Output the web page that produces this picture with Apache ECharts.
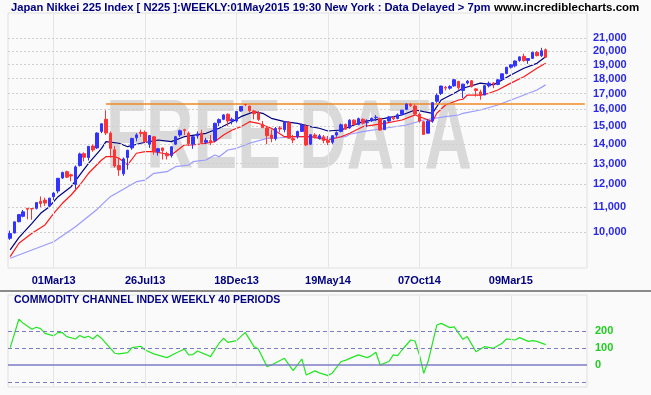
<!DOCTYPE html>
<html><head><meta charset="utf-8">
<script src="https://cdn.jsdelivr.net/npm/echarts@6/dist/echarts.min.js"></script>
<style>html,body{margin:0;padding:0;background:#fafafa}#c{width:651px;height:395px}</style>
</head><body><div id="c"></div>
<script>
// Weekly Nikkei 225 bars, index 0 = week of 21 Dec 2012, index 123 = week of 1 May 2015
const opens = [9760,9960,10400,10620,10950,10940,10950,11250,11300,11050,
11450,11700,12300,12600,12450,12000,12900,13500,13300,13900,
13800,14700,15400,14600,13700,12900,12500,13300,13800,14350,
14650,14650,14000,14400,13600,13800,13500,13400,14000,14500,
14800,14600,14000,14450,14600,14100,14200,14200,15200,15400,
15700,15300,15300,15900,16300,16200,15900,15800,15100,14900,
14500,14300,14900,14800,15200,14300,14400,14700,15000,14000,
14500,14300,14400,14200,14100,14500,14700,15100,14900,15350,
15100,15400,15200,15300,15500,15450,14800,15300,15500,15450,
15700,16000,16300,16200,15700,15250,14600,15300,16500,17000,
17400,17350,17500,17800,17200,17700,17850,17300,17100,16900,
17500,17700,17600,17950,18350,18800,18900,19300,19600,19300,
19450,19900,19650,20100];
const closes = [9940,10395,10688,10801,10913,10926,11191,11153,11173,11385,
11606,12283,12560,12338,12397,12833,13485,13316,13884,13694,
14607,15138,14612,13774,12877,12686,13230,13677,14309,14506,
14589,14129,14466,13615,13758,13660,13389,13860,14404,14742,
14760,14024,14404,14561,14088,14201,14086,15165,15381,15662,
15299,15403,15870,16178,16291,15912,15734,15391,14915,14462,
14313,14865,14841,15274,14328,14224,14696,15063,13960,14516,
14429,14457,14199,14097,14462,14632,15077,14830,15349,15095,
15437,15165,15215,15457,15523,14778,15318,15539,15425,15669,
15948,16321,16229,15709,15300,14533,15291,16414,16880,17490,
17358,17460,17921,17371,17621,17818,17451,17198,16864,17512,
17674,17648,17913,18332,18798,18971,19254,19560,19286,19435,
19908,19653,20020,19532];
const lows = [9700,9950,10380,10580,10500,10480,10900,11000,11050,11000,
11300,11600,12250,12300,12150,11800,12850,13100,13150,13600,
13750,14600,14500,13300,12800,12400,12400,12700,13700,14150,
14400,14100,13800,13450,13400,13200,13200,13300,13950,14400,
14500,13900,13750,14300,14000,14000,13950,14100,15000,15350,
15000,15100,15200,15850,16200,15800,15400,15300,14900,13995,
14100,14200,14650,14650,14300,14050,14300,14700,13900,13950,
14300,14250,14050,13950,14000,14400,14650,14800,14850,15050,
15050,15100,14950,15250,15300,14750,14800,15250,15350,15400,
15650,15950,16150,15650,15200,14530,14600,15200,16400,16900,
17200,17250,17450,17250,16700,17600,17400,16800,16600,16900,
17400,17350,17550,17900,18300,18700,18800,19200,19200,19050,
19400,19600,19550,19500];
const highs = [10050,10400,10700,10880,10950,10950,11200,11460,11400,11400,
11650,12300,12600,12650,12500,12900,13550,13570,13900,13980,
14650,15150,15942,14700,13900,13300,13300,13700,14350,14600,
14800,14750,14500,14450,13800,13800,13600,13900,14450,14800,
14850,14700,14450,14700,14800,14350,14500,15200,15450,15700,
15750,15500,15900,16200,16320,16200,15950,15900,15300,14950,
14800,14950,15000,15300,15300,14500,14750,15150,15100,14550,
14600,14550,14500,14450,14500,14700,15150,15150,15400,15400,
15500,15450,15400,15500,15650,15500,15350,15600,15600,15750,
15950,16370,16380,16300,15800,15300,15400,16450,17000,17520,
17500,17550,17950,17850,17650,17900,17900,17350,17250,17550,
17800,17750,17950,18350,18820,19000,19300,19600,19800,19450,
19950,20000,20250,20200];

// Moving averages: [bar index, value]
const maNavy = [[0,9334],[2,9784],[5,10339],[7,10743],[9,11018],[11,11448],[14,11895],[16,12441],[18,13011],[21,13780],[22,14134],[25,14048],[27,13865],[30,14048],[34,14226],[37,14134],[40,14406],[45,14595],[48,14879],[51,15260],[53,15555],[56,15855],[58,15757],[60,15459],[63,15260],[66,15165],[69,14970],[71,14879],[73,14725],[76,14782],[78,14970],[81,15260],[86,15459],[90,15655],[93,15959],[95,15855],[97,15757],[99,16583],[102,17012],[104,17345],[108,17690],[111,17570],[113,17902],[115,18246],[118,18727],[121,19084],[123,19573]];
const maRed = [[0,9097],[2,9576],[5,9950],[8,10272],[10,10743],[12,11162],[14,11523],[16,11973],[18,12522],[21,13177],[22,13345],[24,13345],[25,13262],[27,12927],[29,13521],[31,13603],[33,13603],[35,13521],[37,13432],[40,13955],[42,13955],[45,14048],[47,14134],[49,14501],[51,14782],[53,14970],[55,15260],[57,15165],[60,14879],[63,14406],[66,14406],[69,14406],[71,14318],[73,14226],[76,14406],[78,14595],[81,14970],[86,15165],[90,15357],[92,15555],[93,15655],[95,15459],[97,15260],[98,15759],[100,16267],[103,16583],[104,16628],[105,16900],[108,16900],[110,17012],[112,17232],[115,17690],[118,18128],[121,18727],[123,19084]];
const maBlue = [[0,9041],[5,9334],[10,9635],[15,10205],[20,10913],[23,11448],[25,11670],[29,12126],[31,12200],[33,12522],[36,12599],[38,12843],[41,12927],[42,13091],[45,13177],[47,13432],[48,13345],[50,13691],[52,13780],[55,14048],[59,14318],[62,14350],[66,14406],[70,14406],[73,14318],[77,14406],[78,14541],[81,14686],[86,14879],[91,15068],[95,15357],[100,15555],[103,15655],[104,15757],[108,15959],[112,16267],[117,16787],[121,17232],[123,17570]];
const resistance = 16350, resistanceStart = 22;

// CCI 40 periods: [bar index, value]
const cci = [[0,102],[2,269],[3,245],[5,210],[6,222],[7,214],[8,186],[10,171],[11,192],[12,190],[13,167],[15,153],[16,173],[17,161],[18,169],[19,153],[20,176],[21,157],[24,69],[25,65],[27,72],[28,102],[30,110],[31,88],[33,65],[36,43],[38,69],[40,94],[41,59],[42,61],[43,82],[45,61],[46,49],[48,128],[49,157],[50,133],[52,143],[54,192],[56,108],[57,94],[59,-10],[60,0],[63,39],[65,-34],[67,35],[68,-59],[70,-35],[71,-47],[73,-63],[74,-47],[76,20],[77,27],[79,49],[80,59],[82,43],[83,55],[84,75],[85,0],[87,20],[88,59],[89,55],[90,88],[92,147],[93,141],[94,59],[95,-49],[96,20],[98,235],[99,245],[101,220],[102,224],[104,151],[105,167],[107,78],[109,108],[111,98],[113,128],[114,153],[116,147],[117,161],[119,139],[120,143],[121,139],[123,120]];

const priceTicks = [10000,11000,12000,13000,14000,15000,16000,17000,18000,19000,20000,21000];
const cciDashed = [200,100,-100];
const cciLabels = [200,100,0];
const tickIdx = [10,31,52,73,94,115];
const tickLabels = ['01Mar13','26Jul13','18Dec13','19May14','07Oct14','09Mar15'];
const SLOTS = 133;
const categories = Array.from({length: SLOTS}, (_, i) => String(i));

const candles = opens.map((o, i) => [o, closes[i], lows[i], highs[i]]);
const fmt = v => v.toLocaleString('en-US');
const F = '"Liberation Sans",Arial,sans-serif';
const L = 8, R = 64;

const chart = echarts.init(document.getElementById('c'), null, {renderer: 'canvas'});
const vGrid = () => tickIdx.map(i => ({xAxis: categories[i]}));
chart.setOption({
  animation: false,
  backgroundColor: '#fafafa',
  title: [
    {text: 'Japan Nikkei 225 Index [ N225 ]:WEEKLY:01May2015 19:30 New York : Data Delayed > 7pm', left: 11, top: 2, padding: 0,
     textStyle: {color: '#000080', fontSize: 11.2, fontWeight: 'bold', fontFamily: F}},
    {text: 'www.incrediblecharts.com', left: 494, top: 2, padding: 0,
     textStyle: {color: '#000000', fontSize: 11.5, fontWeight: 'bold', fontFamily: F}},
    {text: 'COMMODITY CHANNEL INDEX WEEKLY 40 PERIODS', left: 14, top: 295, padding: 0,
     textStyle: {color: '#000080', fontSize: 10.5, fontWeight: 'bold', fontFamily: F}}
  ],
  graphic: [
    {type: 'text', x: 106, y: 92, scaleX: 0.67, z: 0, silent: true,
     style: {text: 'FREE DATA', fill: '#d9d9d9', font: 'bold 98px "Liberation Sans", Arial, sans-serif'}},
    {type: 'rect', shape: {x: 0, y: 290, width: 651, height: 2}, style: {fill: '#8a8a8a'}, silent: true}
  ],
  grid: [
    {left: L, right: R, top: 13, height: 255, show: true, backgroundColor: 'rgba(0,0,0,0)', borderColor: '#e0e0e0', borderWidth: 1},
    {left: L, right: R, top: 295, height: 92, show: true, backgroundColor: 'rgba(0,0,0,0)', borderColor: '#e0e0e0', borderWidth: 1}
  ],
  xAxis: [
    {type: 'category', gridIndex: 0, data: categories, boundaryGap: true,
     axisLine: {show: false}, axisTick: {show: false}, splitLine: {show: false},
     axisLabel: {interval: (i) => tickIdx.includes(i), formatter: (v, i) => tickLabels[tickIdx.indexOf(i)] || '',
       color: '#000080', fontWeight: 'bold', fontSize: 11, fontFamily: F, margin: 7}},
    {type: 'category', gridIndex: 1, data: categories, boundaryGap: true,
     axisLine: {show: false}, axisTick: {show: false}, splitLine: {show: false}, axisLabel: {show: false}}
  ],
  yAxis: [
    {type: 'log', gridIndex: 0, logBase: 10, min: 8711, max: 23142, position: 'right',
     axisLine: {show: false}, axisTick: {show: false}, splitLine: {show: false}, axisLabel: {show: false}},
    {type: 'value', gridIndex: 1, min: -130, max: 412, position: 'right',
     axisLine: {show: false}, axisTick: {show: false}, splitLine: {show: false}, axisLabel: {show: false}}
  ],
  series: [
    {type: 'line', xAxisIndex: 0, yAxisIndex: 0, data: [], z: 1, silent: true,
     markLine: {symbol: 'none', silent: true, animation: false,
       lineStyle: {color: '#e6e6e6', type: 'solid', width: 1}, label: {show: false},
       data: vGrid()}},
    {type: 'line', xAxisIndex: 0, yAxisIndex: 0, data: [], z: 1, silent: true,
     markLine: {symbol: 'none', silent: true, animation: false,
       lineStyle: {color: '#cfcfcf', type: [2, 2], width: 1},
       label: {show: true, position: 'end', distance: 6, formatter: p => fmt(p.value),
         color: '#2a2ae6', fontWeight: 'bold', fontSize: 11, fontFamily: F},
       data: priceTicks.map(v => ({yAxis: v}))}},
    {type: 'line', xAxisIndex: 0, yAxisIndex: 0, data: [], z: 3, silent: true,
     markLine: {symbol: 'none', silent: true, animation: false,
       lineStyle: {color: '#f08a24', type: 'solid', width: 1.5}, label: {show: false},
       data: [[{xAxis: categories[resistanceStart], yAxis: resistance}, {xAxis: categories[SLOTS - 1], yAxis: resistance}]]}},
    {type: 'line', xAxisIndex: 0, yAxisIndex: 0, data: maBlue, symbol: 'none', z: 4,
     lineStyle: {color: '#9a9aff', width: 1.2}},
    {type: 'line', xAxisIndex: 0, yAxisIndex: 0, data: maRed, symbol: 'none', z: 4,
     lineStyle: {color: '#ff1a1a', width: 1.2}},
    {type: 'line', xAxisIndex: 0, yAxisIndex: 0, data: maNavy, symbol: 'none', z: 4,
     lineStyle: {color: '#000080', width: 1.2}},
    {type: 'candlestick', xAxisIndex: 0, yAxisIndex: 0, data: candles, barWidth: 3, z: 5,
     itemStyle: {color: '#3333ff', color0: '#ff3333', borderColor: '#3333ff', borderColor0: '#ff3333', borderWidth: 1}},
    {type: 'line', xAxisIndex: 1, yAxisIndex: 1, data: [], z: 1, silent: true,
     markLine: {symbol: 'none', silent: true, animation: false,
       lineStyle: {color: '#e6e6e6', type: 'solid', width: 1}, label: {show: false},
       data: vGrid()}},
    {type: 'line', xAxisIndex: 1, yAxisIndex: 1, data: [], z: 2, silent: true,
     markLine: {symbol: 'none', silent: true, animation: false,
       lineStyle: {color: '#7c7cc4', type: [4, 3], width: 1}, label: {show: false},
       data: cciDashed.map(v => ({yAxis: v}))}},
    {type: 'line', xAxisIndex: 1, yAxisIndex: 1, data: [], z: 2, silent: true,
     markLine: {symbol: 'none', silent: true, animation: false,
       lineStyle: {color: '#7c7cc4', type: 'solid', width: 1.5},
       label: {show: true, position: 'end', distance: 8, formatter: p => String(p.value),
         color: '#22cc22', fontWeight: 'bold', fontSize: 11, fontFamily: F},
       data: cciLabels.map(v => ({yAxis: v, lineStyle: v === 0 ? {type: 'solid', width: 1.5} : {type: [4, 3], width: 1}}))}},
    {type: 'line', xAxisIndex: 1, yAxisIndex: 1, data: cci, symbol: 'none', z: 4,
     lineStyle: {color: '#22e622', width: 1.2}}
  ]
});
</script></body></html>
